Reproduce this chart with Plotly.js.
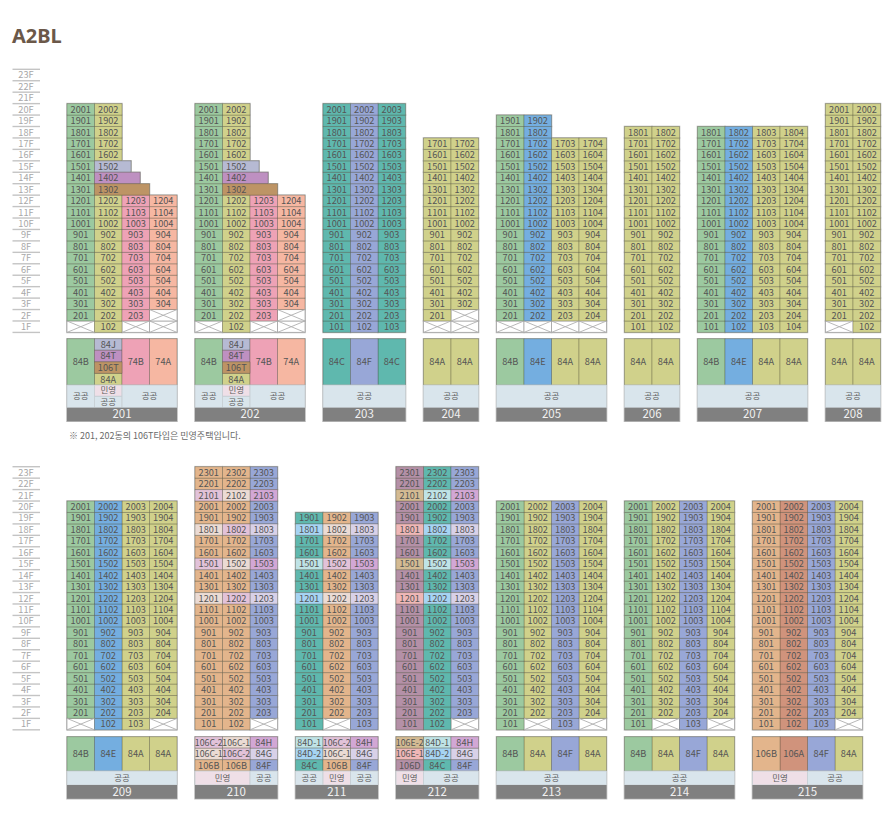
<!DOCTYPE html>
<html><head><meta charset="utf-8">
<script src="https://cdn.plot.ly/plotly-3.0.1.min.js"></script>
<style>html,body{margin:0;padding:0;background:#fff}#c{width:895px;height:838px}</style>
</head><body><div id="c"></div>
<script>
// ---------- DATA ----------
const floorLabels = ['23F','22F','21F','20F','19F','18F','17F','16F','15F','14F','13F','12F','11F','10F','9F','8F','7F','6F','5F','4F','3F','2F','1F'];
const typeNames  = ['84A','84B','84C','84D-1','84D-2','84E','84F','84G','84H','84J','84T','74A','74B','106A','106B','106C-1','106C-2','106D','106E-1','106E-2','106T'];
const typeColors = ['#D0D18B','#9CC9A0','#5FB8AE','#BFE3E6','#A6D4F3','#74AEE0','#98A7D7','#D8D1E8','#D2A7D5','#B6BAD3','#BE90C1','#F6B7A2','#EEA2B6','#D0937C','#E3B58C','#EBDBD4','#E2C2D9','#B490A7','#EFB7B7','#D4BB93','#BD9465'];
const saleNames  = ['공공','민영'];
const saleColors = ['#D9E5EC','#EFDFE7'];

const row1Buildings = ['201','202','203','204','205','206','207','208'];
const row2Buildings = ['209','210','211','212','213','214','215'];

// Runs per column: [lowest floor, highest floor, unit type]; 'X' = no unit on that floor
const columns201 = [
  [[1,1,'X'],[2,20,'84B']],
  [[1,12,'84A'],[13,13,'106T'],[14,14,'84T'],[15,15,'84J'],[16,20,'84A']],
  [[1,1,'X'],[2,12,'74B']],
  [[1,2,'X'],[3,12,'74A']]];
const columns202 = columns201;
const columns203 = [[[1,20,'84C']],[[1,20,'84F']],[[1,20,'84C']]];
const columns204 = [[[1,1,'X'],[2,17,'84A']],[[1,2,'X'],[3,17,'84A']]];
const columns205 = [[[1,1,'X'],[2,19,'84B']],[[1,1,'X'],[2,19,'84E']],[[1,1,'X'],[2,17,'84A']],[[1,1,'X'],[2,17,'84A']]];
const columns206 = [[[1,18,'84A']],[[1,18,'84A']]];
const columns207 = [[[1,18,'84B']],[[1,18,'84E']],[[1,18,'84A']],[[1,18,'84A']]];
const columns208 = [[[1,1,'X'],[2,20,'84A']],[[1,20,'84A']]];
const columns209 = [[[1,1,'X'],[2,20,'84B']],[[1,20,'84E']],[[1,20,'84A']],[[1,1,'X'],[2,20,'84A']]];
const columns210 = [
  [[1,11,'106B'],[12,12,'106C-1'],[13,14,'106B'],[15,15,'106C-2'],[16,17,'106B'],[18,18,'106C-1'],[19,20,'106B'],[21,21,'106C-2'],[22,23,'106B']],
  [[1,11,'106B'],[12,12,'106C-2'],[13,14,'106B'],[15,15,'106C-1'],[16,17,'106B'],[18,18,'106C-2'],[19,20,'106B'],[21,21,'106C-1'],[22,23,'106B']],
  [[1,1,'X'],[2,11,'84F'],[12,12,'84G'],[13,14,'84F'],[15,15,'84H'],[16,17,'84F'],[18,18,'84G'],[19,20,'84F'],[21,21,'84H'],[22,23,'84F']]];
const columns211 = [
  [[1,11,'84C'],[12,12,'84D-2'],[13,14,'84C'],[15,15,'84D-1'],[16,17,'84C'],[18,18,'84D-2'],[19,19,'84C']],
  [[1,1,'X'],[2,11,'106B'],[12,12,'106C-1'],[13,14,'106B'],[15,15,'106C-2'],[16,17,'106B'],[18,18,'106C-1'],[19,19,'106B']],
  [[1,11,'84F'],[12,12,'84G'],[13,14,'84F'],[15,15,'84H'],[16,17,'84F'],[18,18,'84G'],[19,19,'84F']]];
const columns212 = [
  [[1,11,'106D'],[12,12,'106E-1'],[13,14,'106D'],[15,15,'106E-2'],[16,17,'106D'],[18,18,'106E-1'],[19,20,'106D'],[21,21,'106E-2'],[22,23,'106D']],
  [[1,11,'84C'],[12,12,'84D-2'],[13,14,'84C'],[15,15,'84D-1'],[16,17,'84C'],[18,18,'84D-2'],[19,20,'84C'],[21,21,'84D-1'],[22,23,'84C']],
  [[1,1,'X'],[2,11,'84F'],[12,12,'84G'],[13,14,'84F'],[15,15,'84H'],[16,17,'84F'],[18,18,'84G'],[19,20,'84F'],[21,21,'84H'],[22,23,'84F']]];
const columns213 = [[[1,20,'84B']],[[1,1,'X'],[2,20,'84A']],[[1,20,'84F']],[[1,1,'X'],[2,20,'84A']]];
const columns214 = columns213;
const columns215 = [[[1,20,'106B']],[[1,20,'106A']],[[1,20,'84F']],[[1,1,'X'],[2,20,'84A']]];

// Plan legend under each building, top to bottom per column
const plan201 = [['84B'],['84J','84T','106T','84A'],['74B'],['74A']];
const plan202 = plan201;
const plan203 = [['84C'],['84F'],['84C']];
const plan204 = [['84A'],['84A']];
const plan205 = [['84B'],['84E'],['84A'],['84A']];
const plan206 = plan204;
const plan207 = plan205;
const plan208 = plan204;
const plan209 = [['84B'],['84E'],['84A'],['84A']];
const plan210 = [['106C-2','106C-1','106B'],['106C-1','106C-2','106B'],['84H','84G','84F']];
const plan211 = [['84D-1','84D-2','84C'],['106C-2','106C-1','106B'],['84H','84G','84F']];
const plan212 = [['106E-2','106E-1','106D'],['84D-1','84D-2','84C'],['84H','84G','84F']];
const plan213 = [['84B'],['84A'],['84F'],['84A']];
const plan214 = plan213;
const plan215 = [['106B'],['106A'],['84F'],['84A']];

// Tenure band: [labels stacked top to bottom, columns spanned]
const sale201 = [[['공공'],1],[['민영','공공'],1],[['공공'],2]];
const sale202 = sale201;
const sale203 = [[['공공'],3]];
const sale204 = [[['공공'],2]];
const sale205 = [[['공공'],4]];
const sale206 = sale204;
const sale207 = sale205;
const sale208 = sale204;
const sale209 = sale205;
const sale210 = [[['민영'],2],[['공공'],1]];
const sale211 = [[['공공'],1],[['민영'],1],[['공공'],1]];
const sale212 = [[['민영'],1],[['공공'],2]];
const sale213 = sale205;
const sale214 = sale205;
const sale215 = [[['민영'],2],[['공공'],2]];

const steppedUnits = {'1502':1.33,'1402':1.66,'1302':2};   // units wider than one column in 201, 202
const pageTitle = 'A2BL';
const noteText = '※ 201, 202동의 106T타입은 민영주택입니다.';

const allColumns = {201:columns201,202:columns202,203:columns203,204:columns204,205:columns205,206:columns206,207:columns207,208:columns208,209:columns209,210:columns210,211:columns211,212:columns212,213:columns213,214:columns214,215:columns215};
const allPlans = {201:plan201,202:plan202,203:plan203,204:plan204,205:plan205,206:plan206,207:plan207,208:plan208,209:plan209,210:plan210,211:plan211,212:plan212,213:plan213,214:plan214,215:plan215};
const allSales = {201:sale201,202:sale202,203:sale203,204:sale204,205:sale205,206:sale206,207:sale207,208:sale208,209:sale209,210:sale210,211:sale211,212:sale212,213:sale213,214:sale214,215:sale215};

// ---------- LAYOUT CONSTANTS ----------
const COL=27.5, GAP=18, LEFT=67, FLOOR=11.44, TXT=1;
const rows = [
  {ids:row1Buildings, top:69.3,  planTop:338.7, planH:46.3, saleH:22.7, numH:13.6},
  {ids:row2Buildings, top:466.7, planTop:736.7, planH:34.3, saleH:14,   numH:13.7}
];
const NARROW = '"Liberation Sans Narrow","Noto Sans CJK KR",sans-serif';
const KR = '"Noto Sans CJK KR",sans-serif';
const CELL_EDGE='rgba(70,70,50,0.30)';

// ---------- BUILD ----------
const bins={}; typeNames.forEach((t,i)=>bins[t]={x:[],w:[],b:[],h:[],c:typeColors[i]});
const halo={x:[],w:[],b:[],h:[]};
const crossed={x:[],w:[],b:[],h:[]}, crossX=[], crossY=[];
const unitTxt={x:[],y:[],t:[]}, planTxt={x:[],y:[],t:[]}, planLongTxt={x:[],y:[],t:[]}, saleTxt={x:[],y:[],t:[]}, numTxt={x:[],y:[],t:[]};
const saleBars={x:[],w:[],b:[],h:[],c:[]}, numBars={x:[],w:[],b:[],h:[]};
const floorTxt={x:[],y:[],t:[]}, floorLX=[], floorLY=[];

function put(o,x,w,b,h){o.x.push(x+w/2);o.w.push(w);o.b.push(b);o.h.push(h);}
function addHalo(x,w,b,h){put(halo,x-0.8,w+1.6,b-0.8,h+1.6);}

rows.forEach(r=>{
  floorLabels.forEach((f,i)=>{
    const y=r.top+i*FLOOR;
    floorLX.push(12.5,40,null);floorLY.push(y,y,null);
    floorTxt.x.push(26);floorTxt.y.push(y+FLOOR/2+TXT);floorTxt.t.push(f);
  });
  const yb=r.top+23*FLOOR;floorLX.push(12.5,40,null);floorLY.push(yb,yb,null);

  let x0=LEFT;
  r.ids.forEach(id=>{
    const cols=allColumns[id], n=cols.length;
    cols.forEach((runs,ci)=>{
      const cx=x0+ci*COL;
      runs.forEach(([lo,hi,type])=>{
        for(let f=lo;f<=hi;f++){
          const top=r.top+(23-f)*FLOOR;
          if(type==='X'){
            put(crossed,cx,COL,top,FLOOR);
            addHalo(cx,COL,top,FLOOR);
            crossX.push(cx,cx+COL,null,cx,cx+COL,null);
            crossY.push(top,top+FLOOR,null,top+FLOOR,top,null);
          }else{
            const label=String(f*100+ci+1);
            const wide=(id==='201'||id==='202')&&steppedUnits[label]?steppedUnits[label]:1;
            put(bins[type],cx,COL*wide,top,FLOOR);
            addHalo(cx,COL*wide,top,FLOOR);
            unitTxt.x.push(cx+COL/2);unitTxt.y.push(top+FLOOR/2+TXT);unitTxt.t.push(label);
          }
        }
      });
    });
    // plan legend
    allPlans[id].forEach((list,ci)=>{
      const cx=x0+ci*COL, h=r.planH/list.length;
      list.forEach((type,k)=>{
        const top=r.planTop+k*h;
        put(bins[type],cx,COL,top,h);
        const tgt=type.length>4?planLongTxt:planTxt;
        tgt.x.push(cx+COL/2);tgt.y.push(top+h/2+TXT);tgt.t.push(type);
      });
    });
    // tenure band
    let si=0;const saleTop=r.planTop+r.planH;
    allSales[id].forEach(([labels,span])=>{
      const cx=x0+si*COL,w=span*COL,h=r.saleH/labels.length;
      labels.forEach((lb,k)=>{
        const top=saleTop+k*h;
        put(saleBars,cx,w,top,h);saleBars.c.push(saleColors[saleNames.indexOf(lb)]);
        saleTxt.x.push(cx+w/2);saleTxt.y.push(top+h/2+0.5);saleTxt.t.push(lb);
      });
      si+=span;
    });
    // building number band
    const nt=saleTop+r.saleH, W=n*COL;
    put(numBars,x0,W,nt,r.numH);
    numTxt.x.push(x0+W/2);numTxt.y.push(nt+r.numH/2+TXT);numTxt.t.push(id);
    addHalo(x0,W,r.planTop,r.planH+r.saleH+r.numH);
    x0+=W+GAP;
  });
});

function barTrace(o,name,color,line){
  return {type:'bar',name,x:o.x,y:o.h,base:o.b,width:o.w,
    marker:{color,line:line||{width:0}},hoverinfo:'skip',showlegend:false};
}
function textTrace(o,name,font){
  return {type:'scatter',mode:'text',name,x:o.x,y:o.y,text:o.t,textposition:'middle center',
    textfont:font,hoverinfo:'skip',showlegend:false,cliponaxis:false};
}
const traces=[];
traces.push({type:'scatter',mode:'lines',name:'floor rules',x:floorLX,y:floorLY,line:{color:'#c4c4c4',width:1.4},hoverinfo:'skip',showlegend:false});
traces.push(barTrace(halo,'outline','#bcbcbc'));
traces.push(barTrace(crossed,'no unit','#ffffff',{color:'rgba(150,150,150,0.8)',width:0.8}));
traces.push({type:'scatter',mode:'lines',name:'no unit cross',x:crossX,y:crossY,line:{color:'#b0b0b0',width:0.9},hoverinfo:'skip',showlegend:false});
typeNames.forEach(t=>traces.push(barTrace(bins[t],t,bins[t].c,{color:CELL_EDGE,width:1})));
traces.push(barTrace(saleBars,'tenure',saleBars.c,{color:'#c6ced3',width:0.8}));
traces.push(barTrace(numBars,'building','#808080'));
traces.push(textTrace(floorTxt,'floors',{family:NARROW,size:9.2,color:'#a8a8a8'}));
traces.push(textTrace(unitTxt,'units',{family:NARROW,size:9.2,color:'#555555'}));
traces.push(textTrace(planTxt,'plans',{family:NARROW,size:9.2,color:'#555555'}));
traces.push(textTrace(planLongTxt,'plans long',{family:NARROW,size:8.8,color:'#555555'}));
traces.push(textTrace(saleTxt,'tenure labels',{family:KR,size:8.5,color:'#606060'}));
traces.push(textTrace(numTxt,'building numbers',{family:NARROW,size:11.5,color:'#f0f0f0'}));

const layout={
  width:895,height:838,margin:{l:0,r:0,t:0,b:0},
  paper_bgcolor:'#fff',plot_bgcolor:'#fff',barmode:'overlay',showlegend:false,
  xaxis:{range:[0,895],visible:false,fixedrange:true},
  yaxis:{range:[838,0],visible:false,fixedrange:true},
  title:{text:pageTitle,x:12/895,xanchor:'left',y:1-35.5/838,yanchor:'middle',
    font:{family:'"Noto Sans",sans-serif',size:20,color:'#6b5849',weight:700}},
  annotations:[{text:noteText,x:67,y:435,xref:'x',yref:'y',xanchor:'left',yanchor:'middle',showarrow:false,
    font:{family:KR,size:9,color:'#6a6a6a'}}]
};
Plotly.newPlot('c',traces,layout,{displayModeBar:false,staticPlot:true});
</script></body></html>
